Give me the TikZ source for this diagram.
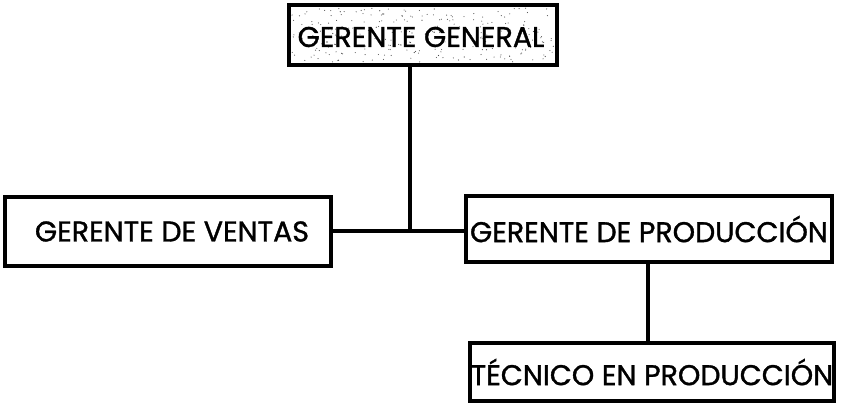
\documentclass[tikz,border=0pt]{standalone}
\usepackage{fontspec}
\newfontfamily\orgfont{Poppins}[FakeBold=1.2]
\usetikzlibrary{calc}
\pgfdeclarelayer{edgelayer}
\pgfdeclarelayer{nodelayer}
\pgfsetlayers{edgelayer,nodelayer,main}
\tikzstyle{post}=[rectangle,draw=black,line width=3.2pt,fill=white,inner sep=0pt,font=\orgfont\fontsize{28.5}{30}\selectfont]
\tikzstyle{link}=[draw=black,line width=3.2pt]
\begin{document}
\begin{tikzpicture}[x=1pt,y=-1pt]
	\useasboundingbox (0,0) rectangle (841,404);
	\begin{pgfonlayer}{nodelayer}
		\node [style=post,minimum width=268pt,minimum height=60pt] (gg) at (423, 35) {};
		\node [style=post,minimum width=326pt,minimum height=69pt] (ventas) at (168, 231.5) {\hspace{8pt}GERENTE DE VENTAS};
		\node [style=post,minimum width=366pt,minimum height=66pt] (prod) at (649, 229) {GERENTE DE PRODUCCIÓN};
		\node [style=post,minimum width=364pt,minimum height=58pt] (tec) at (652, 372) {TÉCNICO EN PRODUCCIÓN};
		\coordinate (j) at (410, 231);
		\coordinate (k) at (648, 300);
	\end{pgfonlayer}
	% speckled shading of the top box
	\pgfmathsetseed{7}
	\foreach \i in {1,...,260}
		\fill [black!70] ({292+rnd*262}, {8+rnd*54}) circle (0.55pt);
	\node [font=\orgfont\fontsize{28.5}{30}\selectfont] at (421, 37) {GERENTE GENERAL};
	\begin{pgfonlayer}{edgelayer}
		\draw [style=link] (gg.south -| j) to (j);
		\draw [style=link] (ventas.east |- j) to (prod.west |- j);
		\draw [style=link] (prod.south -| k) to (tec.north -| k);
	\end{pgfonlayer}
\end{tikzpicture}
\end{document}
